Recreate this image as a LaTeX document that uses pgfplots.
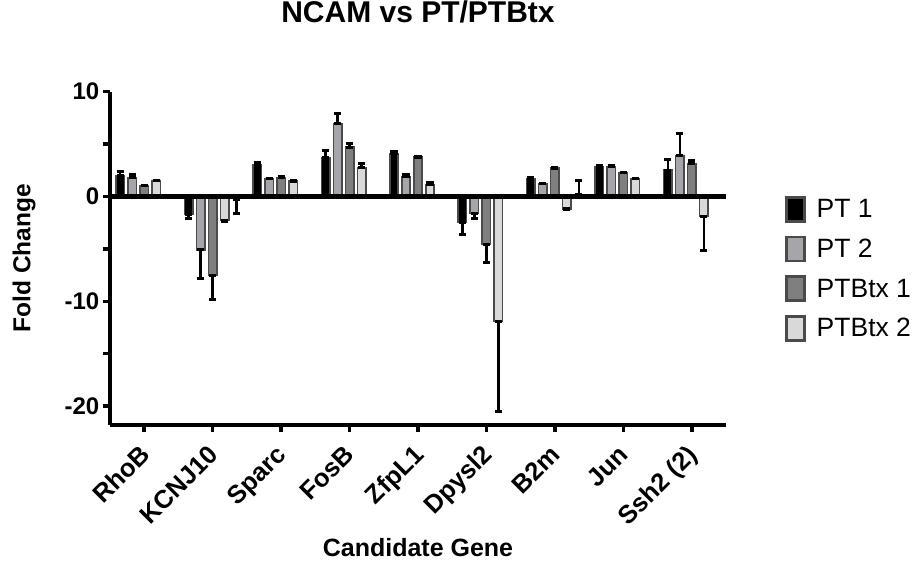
\documentclass[border=0pt]{standalone}
\usepackage{fontspec}
\setmainfont{Liberation Sans}
\usepackage{pgfplots}
\usepackage{pgfplotstable}
\pgfplotsset{compat=1.18}
\definecolor{bordergray}{HTML}{4A4A4A}
\definecolor{ptone}{HTML}{000000}
\definecolor{pttwo}{HTML}{A5A5AA}
\definecolor{btxone}{HTML}{7F7F7F}
\definecolor{btxtwo}{HTML}{D9D9D9}

\pgfplotstableread{
x y ep em
0 1.95 0.45 0
1 -1.70 0 0.40
2 2.97 0.25 0
3 3.70 0.70 0
4 4.10 0.15 0
5 -2.45 0 1.20
6 1.70 0.10 0
7 2.85 0.05 0
8 2.50 1.00 0
}\tptone
\pgfplotstableread{
x y ep em
0 1.80 0.30 0
1 -5.10 0 2.75
2 1.70 0.05 0
3 6.95 1.00 0
4 1.90 0.15 0
5 -1.65 0 0.45
6 1.20 0.05 0
7 2.85 0.05 0
8 3.85 2.15 0
}\tpttwo
\pgfplotstableread{
x y ep em
0 1.00 0.05 0
1 -7.50 0 2.30
2 1.80 0.05 0
3 4.70 0.30 0
4 3.75 0.05 0
5 -4.60 0 1.75
6 2.70 0.05 0
7 2.25 0.05 0
8 3.10 0.35 0
}\tbtxone
\pgfplotstableread{
x y ep em
0 1.50 0.05 0
1 -2.30 0 0.05
2 1.45 0.05 0
3 2.75 0.35 0
4 1.15 0.15 0
5 -11.90 0 8.60
6 -1.20 0 0.05
7 1.70 0.05 0
8 -1.90 0 3.30
}\tbtxtwo
\pgfplotstableread{
x y ep em
1 -0.30 0 1.35
6 0.20 1.35 0
}\textra

\begin{document}
\begin{tikzpicture}
\useasboundingbox (-110pt,-138pt) rectangle (808pt,425pt);
\begin{axis}[
  at={(0pt,0pt)}, anchor=south west,
  scale only axis, width=616pt, height=333.5pt,
  xmin=-0.5, xmax=8.5, ymin=-21.8, ymax=10,
  axis x line*=bottom, axis y line*=left,
  axis line style={line width=3.5pt, black},
  ybar=3.5pt, bar width=8.5pt,
  xtick={0,...,8},
  xticklabels={RhoB,KCNJ10,Sparc,FosB,ZfpL1,Dpysl2,B2m,Jun,Ssh2 (2)},
  ytick={-20,-15,...,10},
  yticklabels={-20,,-10,,0,,10},
  tick align=outside, major tick length=7pt,
  every tick/.style={black, line width=3.5pt},
  yticklabel style={font=\fontsize{24}{28}\selectfont\bfseries, inner sep=3.5pt},
  xticklabel style={font=\fontsize{25.5}{29}\selectfont\bfseries, xshift=-6pt, yshift=-10pt, rotate=45, anchor=north east, inner sep=1pt},
  title={NCAM vs PT/PTBtx},
  title style={font=\fontsize{30}{34}\selectfont\bfseries, at={(axis description cs:0.5,1.1895)}, anchor=base},
  xlabel={Candidate Gene},
  xlabel style={font=\fontsize{25}{29}\selectfont\bfseries, at={(axis description cs:0.5,-0.3928)}, anchor=base},
  ylabel={Fold Change},
  ylabel style={font=\fontsize{24.5}{28}\selectfont\bfseries, at={(axis description cs:-0.1396,0.5)}, anchor=center},
  every axis plot/.append style={draw=bordergray, line width=1.6pt},
  error bars/y dir=both, error bars/y explicit,
  error bars/error bar style={line width=2.5pt, black, solid},
  error bars/error mark options={rotate=90, black, mark size=3.6pt, line width=3pt},
  legend image code/.code={\draw[#1, line width=2.6pt] (0pt,-12pt) rectangle (18pt,12pt);},
  legend style={at={(axis description cs:1.096,0.686)}, anchor=north west, draw=none, fill=none,
    inner sep=0pt, outer sep=0pt, row sep=13pt,
    font=\fontsize{26.5}{30}\selectfont,
    nodes={inner sep=1pt},
    /tikz/every odd column/.append style={column sep=10pt}},
  legend cell align=left,
  clip=false,
]
\addplot[fill=ptone] table[x=x, y=y, y error plus=ep, y error minus=em]{\tptone};
\addplot[fill=pttwo] table[x=x, y=y, y error plus=ep, y error minus=em]{\tpttwo};
\addplot[fill=btxone] table[x=x, y=y, y error plus=ep, y error minus=em]{\tbtxone};
\addplot[fill=btxtwo] table[x=x, y=y, y error plus=ep, y error minus=em]{\tbtxtwo};
\addplot[draw=none, fill=none] table[x=x, y=y, y error plus=ep, y error minus=em]{\textra};
\legend{PT 1, PT 2, PTBtx 1, PTBtx 2}
\draw[line width=4.3pt, black] (axis cs:-0.5,0) -- (axis cs:8.5,0);
\end{axis}
\end{tikzpicture}
\end{document}
